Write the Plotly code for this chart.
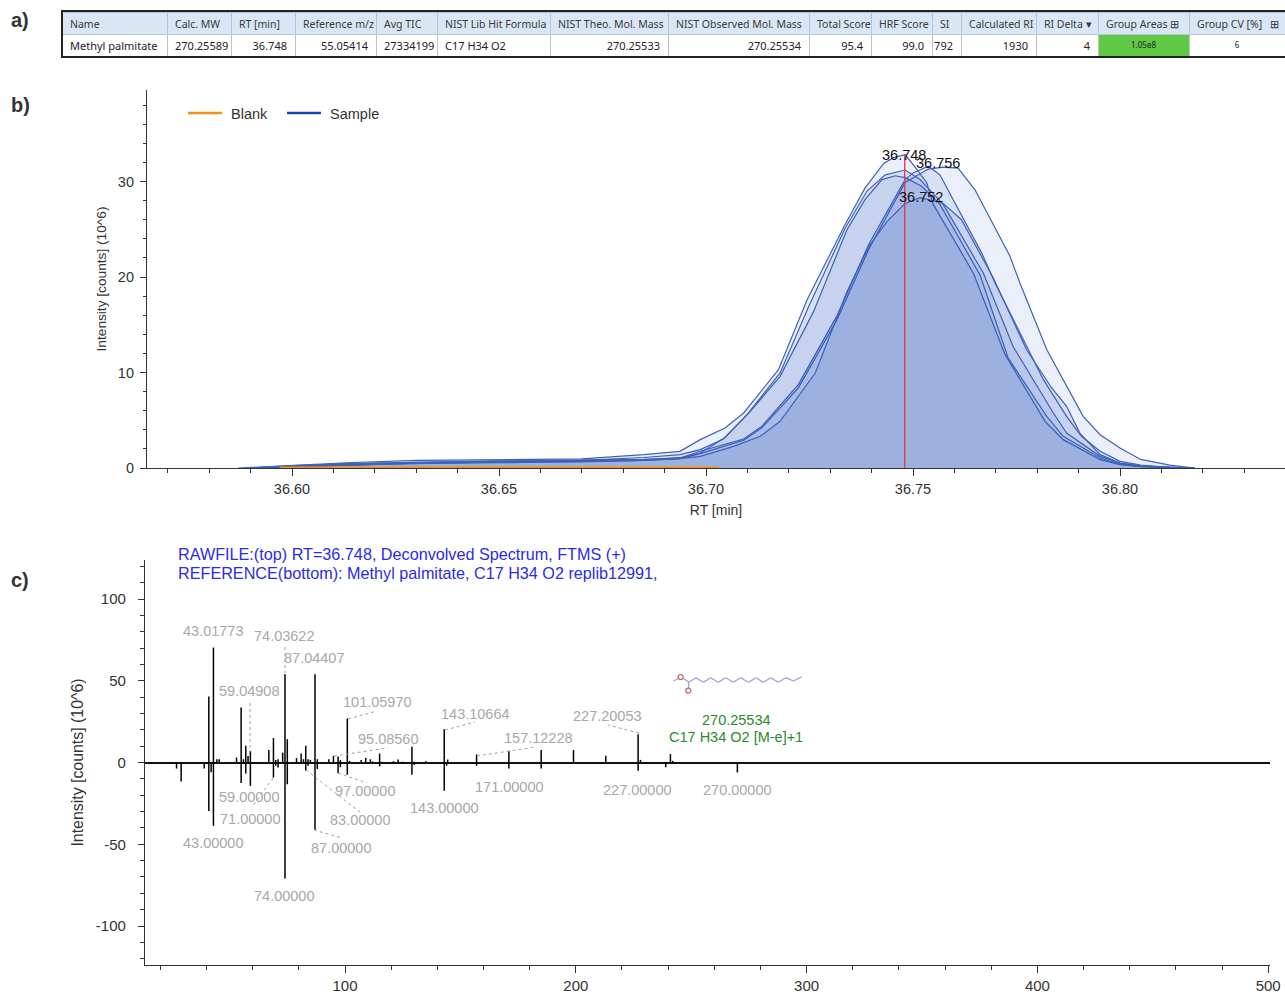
import plotly.graph_objects as go

W, H = 1285, 994

# ---- table (a)
TABLE_HEADERS = ["Name", "Calc. MW", "RT [min]", "Reference m/z", "Avg TIC", "NIST Lib Hit Formula",
                 "NIST Theo. Mol. Mass", "NIST Observed Mol. Mass", "Total Score", "HRF Score", "SI",
                 "Calculated RI", "RI Delta \u25be", "Group Areas \u229e", "Group CV [%]   \u229e"]
TABLE_VALUES = ["Methyl palmitate", "270.25589", "36.748", "55.05414", "27334199", "C17 H34 O2",
                "270.25533", "270.25534", "95.4", "99.0", "792", "1930", "4", "1.05e8", "6"]
TABLE_ALIGN = ["left", "left", "right", "right", "left", "left", "right", "right", "right", "right",
               "right", "right", "right", "center", "center"]
TABLE_EDGES = [62, 167, 231, 295, 376, 437, 550, 668, 809, 871, 932, 961, 1036, 1098, 1189, 1285]

# ---- chromatogram (b): RT [min], intensity [10^6 counts]
RT_A = [36.587, 36.600, 36.613, 36.630, 36.650, 36.670, 36.685, 36.6937, 36.6986, 36.7046, 36.7091, 36.7175,
        36.7244, 36.7336, 36.7384, 36.7429, 36.7453, 36.7481, 36.7500, 36.7533, 36.7549, 36.7646,
        36.7722, 36.7819, 36.7863, 36.7952, 36.8000, 36.805, 36.812, 36.818]
INT_A = [0, 0.3, 0.55, 0.8, 0.85, 0.95, 1.4, 1.75, 2.97, 4.19, 5.76, 10.3, 17.6, 25.5, 29.3, 31.9, 32.5, 32.8,
         31.8, 29.9, 27.6, 20.4, 11.9, 4.89, 2.97, 0.87, 0.35, 0.15, 0.05, 0]
RT_B = [36.590, 36.600, 36.613, 36.630, 36.650, 36.670, 36.685, 36.6937, 36.6986, 36.7042, 36.7099, 36.7179,
        36.7248, 36.7336, 36.7389, 36.7433, 36.7481, 36.7517, 36.7541, 36.7573, 36.7670, 36.7742, 36.7839,
        36.7871, 36.7952, 36.8000, 36.805, 36.812, 36.818]
INT_B = [0, 0.2, 0.45, 0.6, 0.7, 0.8, 1.1, 1.40, 1.92, 3.04, 5.58, 9.95, 16.9, 25.1, 29.0, 30.7, 31.2, 30.2, 29.1,
         27.6, 20.4, 12.7, 5.76, 3.66, 1.22, 0.52, 0.2, 0.05, 0]
RT_C = [36.590, 36.600, 36.613, 36.630, 36.650, 36.670, 36.685, 36.6937, 36.6986, 36.7046, 36.7107, 36.7179,
        36.7260, 36.7340, 36.7384, 36.7425, 36.7457, 36.7481, 36.7521, 36.7565, 36.7662, 36.7730, 36.7823,
        36.7863, 36.7952, 36.8000, 36.805, 36.812, 36.818]
INT_C = [0, 0.25, 0.4, 0.6, 0.75, 0.85, 0.9, 1.05, 1.57, 3.19, 5.93, 9.6, 16.4, 24.9, 28.1, 30.2, 30.6, 30.4, 29.5,
         27.6, 20.2, 11.5, 5.41, 3.32, 1.05, 0.42, 0.15, 0.05, 0]
RT_D = [36.590, 36.600, 36.613, 36.630, 36.650, 36.670, 36.685, 36.6937, 36.6986, 36.7091, 36.7135, 36.7223,
        36.7316, 36.7393, 36.7481, 36.7500, 36.7537, 36.7565, 36.7605, 36.7666, 36.7698, 36.7762, 36.7815,
        36.7871, 36.7907, 36.7952, 36.8000, 36.805, 36.812, 36.818]
INT_D = [0, 0.15, 0.3, 0.5, 0.6, 0.7, 0.85, 1.05, 1.75, 3.04, 4.36, 8.73, 15.9, 23.4, 30.2, 30.9, 31.6, 30.7,
         27.4, 22.5, 19.4, 13.8, 9.25, 5.41, 3.32, 1.75, 0.70, 0.3, 0.08, 0]
RT_E = [36.590, 36.600, 36.613, 36.630, 36.650, 36.670, 36.685, 36.6937, 36.6986, 36.7067, 36.7131, 36.7179,
        36.7264, 36.7340, 36.7393, 36.7437, 36.7481, 36.7517, 36.7545, 36.7573, 36.7617, 36.7694, 36.7774,
        36.7835, 36.7871, 36.7903, 36.7952, 36.8000, 36.805, 36.812, 36.818]
INT_E = [0, 0.15, 0.3, 0.45, 0.6, 0.65, 0.8, 0.98, 1.22, 2.27, 3.32, 4.89, 9.95, 18.4, 23.2, 25.8, 27.7, 28.3,
         28.0, 27.7, 26.0, 19.9, 12.4, 8.38, 6.46, 3.66, 1.4, 0.52, 0.2, 0.05, 0]
RT_F = [36.590, 36.600, 36.613, 36.630, 36.650, 36.670, 36.685, 36.6937, 36.6986, 36.7091, 36.7135, 36.7223,
        36.7316, 36.7393, 36.7481, 36.7537, 36.7573, 36.7609, 36.7650, 36.7734, 36.7758, 36.7823, 36.7911,
        36.7952, 36.8000, 36.805, 36.812, 36.818]
INT_F = [0, 0.1, 0.3, 0.5, 0.55, 0.7, 0.8, 0.98, 1.5, 2.9, 4.2, 8.4, 15.5, 22.9, 29.9, 31.3, 31.5, 31.4,
         29.1, 22.2, 19.4, 12.4, 5.41, 3.49, 2.09, 0.9, 0.3, 0]
RT_BLANK = [36.597, 36.62, 36.65, 36.68, 36.703]
INT_BLANK = [0.02, 0.05, 0.06, 0.06, 0.02]
APEX_RT = 36.748
APEX_TOP = 32.8

# ---- spectrum (c): m/z, intensity [10^6 counts]
TOP_MZ = [41, 43, 44.5, 45.5, 53, 55, 56, 57, 58, 59, 67, 69, 70, 71, 73, 74, 75, 79, 81, 82, 83, 84, 85, 87, 88,
          93, 95, 97, 98, 101, 102, 107, 109, 111, 112, 115, 116, 121, 123, 125, 129, 130, 135, 143, 144.5, 157,
          171, 185, 199, 213, 227, 228, 241, 242]
TOP_INT = [40.4, 70.3, 2, 2, 3, 33.6, 2, 10.2, 4, 7.1, 7.7, 14.9, 1.5, 2, 6, 54, 14.3, 2.7, 5.5, 2, 10.2, 2, 1.6,
           54, 2, 2, 4, 3.7, 1.5, 26.9, 1, 1.6, 2.7, 2, 0.6, 5.5, 0.5, 0.8, 1.8, 0.5, 9.6, 0.5, 0.8, 20.4, 1.8, 4.9,
           7.1, 7.7, 7.7, 4.1, 17.3, 1.6, 5.1, 1]
BOT_MZ = [27, 29, 39, 40, 41, 42, 43, 55, 57, 59, 69, 70, 71, 74, 75, 83, 84, 87, 88, 97, 98, 101, 115, 129, 130,
          143, 144, 157, 171, 185, 227, 239, 270]
BOT_INT = [-3.7, -11.6, -3.7, -1, -29.6, -6, -38.7, -12.6, -6.7, -14.3, -9.2, -2, -3, -71, -13.3, -4.9, -2, -41.2,
           -4, -6.5, -2.9, -7.5, -2.4, -7.5, -1.6, -17.3, -2, -2, -3.7, -3.7, -5.1, -2.9, -6.1]


def px(x):
    return x / W


def py(y):
    return 1 - y / H


def stems(mz, val):
    xs, ys = [], []
    for m, v in zip(mz, val):
        xs += [m, m, None]
        ys += [0, v, None]
    return xs, ys


def nb(s):
    return s.replace(" ", "\u00a0")


fig = go.Figure()

# table
edges = TABLE_EDGES
fig.add_trace(go.Table(
    domain=dict(x=[px(62), 1], y=[py(57), py(12)]),
    columnwidth=[b - a for a, b in zip(edges[:-1], edges[1:])],
    header=dict(values=[nb(h) for h in TABLE_HEADERS], height=22, align="left",
                fill_color="#d8e6f5", line=dict(color="#b4c6d8", width=1),
                font=dict(family="Noto Sans", size=10.5, color="#3a3a3a")),
    cells=dict(values=[[nb(v)] for v in TABLE_VALUES], height=22, align=TABLE_ALIGN,
               fill_color=["#5fc943" if v == "1.05e8" else "white" for v in TABLE_VALUES],
               line=dict(color="#c4c4c4", width=1),
               font=dict(family="Noto Sans", size=[8 if v in ("1.05e8", "6") else 11 for v in TABLE_VALUES],
                         color="#222222")),
))

# chromatogram
LINE = "rgb(62,98,184)"
FILL = "rgba(35,75,185,0.09)"
for rt, val in [(RT_F, INT_F), (RT_D, INT_D), (RT_A, INT_A), (RT_B, INT_B), (RT_C, INT_C), (RT_E, INT_E)]:
    fig.add_trace(go.Scatter(x=rt, y=val, mode="lines", fill="tozeroy", fillcolor=FILL,
                             line=dict(color=LINE, width=1.2), showlegend=False, hoverinfo="skip",
                             xaxis="x", yaxis="y"))
fig.add_trace(go.Scatter(x=RT_BLANK, y=INT_BLANK, mode="lines", name="\u00a0Blank",
                         line=dict(color="#f0901e", width=2.5), xaxis="x", yaxis="y"))
fig.add_trace(go.Scatter(x=[None], y=[None], mode="lines", name="\u00a0Sample",
                         line=dict(color="#1b45b5", width=2.5), xaxis="x", yaxis="y"))
fig.add_trace(go.Scatter(x=[APEX_RT, APEX_RT], y=[0, APEX_TOP], mode="lines", showlegend=False,
                         line=dict(color="#e0404f", width=1.4), xaxis="x", yaxis="y"))

# spectrum
tx, ty = stems(TOP_MZ, TOP_INT)
bx, by = stems(BOT_MZ, BOT_INT)
fig.add_trace(go.Scatter(x=tx + bx, y=ty + by, mode="lines", showlegend=False,
                         line=dict(color="black", width=1.5), xaxis="x2", yaxis="y2"))

AXC = "#333333"
TF = "Liberation Sans"
fig.update_layout(
    width=W, height=H, autosize=False, margin=dict(l=0, r=0, t=0, b=0, autoexpand=False),
    paper_bgcolor="white", plot_bgcolor="white", font=dict(family=TF, color="#333333"),
    legend=dict(orientation="h", x=px(183), y=py(97), xanchor="left", yanchor="top",
                font=dict(size=14.5, color="#333333"), itemwidth=34, entrywidth=50, bgcolor="rgba(0,0,0,0)"),
    xaxis=dict(domain=[px(147), 1], range=[36.6 + (147 - 292) / 4140, 36.6 + (1285 - 292) / 4140],
               anchor="y", tickvals=[36.60, 36.65, 36.70, 36.75, 36.80], ticktext=["36.60", "36.65", "36.70", "36.75", "36.80"],
               automargin=False,
               ticks="outside", ticklen=7, tickcolor=AXC, showline=True, linecolor=AXC, linewidth=1.2,
               showgrid=False, zeroline=False, tickfont=dict(size=14.5),
               minor=dict(dtick=0.01, ticks="outside", ticklen=4, tickcolor=AXC, showgrid=False),
               title=dict(text="RT [min]", font=dict(size=14), standoff=9)),
    yaxis=dict(domain=[py(468), py(90)], range=[0, 378 / 9.55], anchor="x", automargin=False,
               tickvals=[0, 10, 20, 30], ticks="outside", ticklen=6, tickcolor=AXC,
               showline=True, linecolor=AXC, linewidth=1.2, showgrid=False, zeroline=False,
               tickfont=dict(size=14.5), ticklabelstandoff=3,
               minor=dict(dtick=2, ticks="outside", ticklen=3, tickcolor=AXC, showgrid=False),
               title=dict(text="Intensity [counts] (10^6)", font=dict(size=13.7), standoff=8)),
    xaxis2=dict(domain=[px(145), px(1270)], range=[100 + (145 - 345) / 2.308, 100 + (1270 - 345) / 2.308],
                anchor="y2", tickvals=[100, 200, 300, 400, 500], ticks="outside", ticklen=7, tickcolor=AXC,
                automargin=False,
                showline=True, linecolor=AXC, linewidth=1.2, showgrid=False, zeroline=False,
                tickfont=dict(size=15),
                minor=dict(dtick=20, ticks="outside", ticklen=4, tickcolor=AXC, showgrid=False)),
    yaxis2=dict(domain=[py(965), py(560)], range=[-202.5 / 1.635, 202.5 / 1.635], anchor="x2",
                tickvals=[-100, -50, 0, 50, 100], ticktext=["-100", "-50", "0", "50", "100"],
                automargin=False, ticklabelstandoff=9,
                ticks="outside", ticklen=6, tickcolor=AXC,
                showline=True, linecolor=AXC, linewidth=1.2, showgrid=False,
                zeroline=True, zerolinecolor="#111111", zerolinewidth=1.5,
                tickfont=dict(size=15),
                minor=dict(dtick=10, ticks="outside", ticklen=4, tickcolor=AXC, showgrid=False),
                title=dict(text="Intensity [counts] (10^6)", font=dict(size=15.9), standoff=8)),
)


def note(x, y, text, size=14.5, color="#a8a8a8", anchor="center", bold=False, family=TF):
    fig.add_annotation(xref="paper", yref="paper", x=px(x), y=py(y), text=f"<b>{text}</b>" if bold else text,
                       showarrow=False, xanchor=anchor, yanchor="middle",
                       font=dict(size=size, color=color, family=family))


for x, y, t in [(20, 20, "a)"), (20, 105, "b)"), (20, 580, "c)")]:
    note(x, y, t, size=20, color="#333333", bold=True)

for x, y, t in [(904, 155, "36.748"), (938, 163, "36.756"), (921, 197, "36.752")]:
    note(x, y, t, size=14.5, color="#111111")

note(176, 554, "RAWFILE:(top) RT=36.748, Deconvolved Spectrum, FTMS (+)", size=16.2, color="#2b2be8", anchor="left")
note(176, 573, "REFERENCE(bottom): Methyl palmitate, C17 H34 O2 replib12991,", size=16.2, color="#2b2be8", anchor="left")

LABELS = [(213, 631, "43.01773"), (284, 636, "74.03622"), (314, 658, "87.04407"), (249, 691, "59.04908"),
          (377, 702, "101.05970"), (388, 739, "95.08560"), (475, 714, "143.10664"), (538, 738, "157.12228"),
          (607, 716, "227.20053"), (249, 797, "59.00000"), (250, 819, "71.00000"), (365, 791, "97.00000"),
          (360, 820, "83.00000"), (444, 808, "143.00000"), (341, 848, "87.00000"), (213, 843, "43.00000"),
          (284, 896, "74.00000"), (509, 787, "171.00000"), (637, 790, "227.00000"), (737, 790, "270.00000")]
for x, y, t in LABELS:
    note(x, y, t)
note(736, 720, "270.25534", color="#2a8a2a")
note(736, 737, "C17 H34 O2 [M-e]+1", color="#2a8a2a")

LEADERS = [(285, 647, 285, 673), (250, 703, 250, 752), (273, 778, 252, 807), (348, 719, 377, 711),
           (334, 756, 388, 748), (445, 730, 475, 722), (477, 756, 536, 747), (639, 733, 608, 725),
           (338, 773, 367, 783), (306, 770, 360, 812), (314, 830, 342, 838)]
for x0, y0, x1, y1 in LEADERS:
    fig.add_shape(type="line", xref="paper", yref="paper", x0=px(x0), y0=py(y0), x1=px(x1), y1=py(y1),
                  line=dict(color="#a0a0a0", width=1, dash="dot"))

# table outline
fig.add_shape(type="rect", xref="paper", yref="paper", x0=px(62), x1=px(1290), y0=py(11), y1=py(57),
              line=dict(color="#222222", width=2))

# molecule sketch
CHAIN = [(820, 93), (836, 85)]
BACK = [(850, 85), (866, 97), (888, 83), (910, 97), (932, 83), (955, 97), (977, 83), (1000, 97), (1022, 83),
        (1045, 97), (1068, 83), (1090, 97), (1112, 83), (1135, 97), (1158, 83), (1180, 93), (1205, 80)]
CO = [(866, 97), (866, 115)]
for seg in (CHAIN, BACK, CO):
    for (a, b), (c, d) in zip(seg[:-1], seg[1:]):
        fig.add_shape(type="line", xref="paper", yref="paper",
                      x0=px(400 + a / 3), y0=py(650 + b / 3), x1=px(400 + c / 3), y1=py(650 + d / 3),
                      line=dict(color="#9a9fd0", width=1.2))
for cx, cy in [(842, 81), (865, 122)]:
    x0, y0 = 400 + cx / 3, 650 + cy / 3
    fig.add_shape(type="circle", xref="paper", yref="paper", x0=px(x0 - 2.5), x1=px(x0 + 2.5),
                  y0=py(y0 + 2.5), y1=py(y0 - 2.5), line=dict(color="#cc5a5a", width=1.2))

fig.write_html("out.html", config={"displayModeBar": False},
               post_script="document.body.style.margin='0';document.body.style.overflow='hidden';")
